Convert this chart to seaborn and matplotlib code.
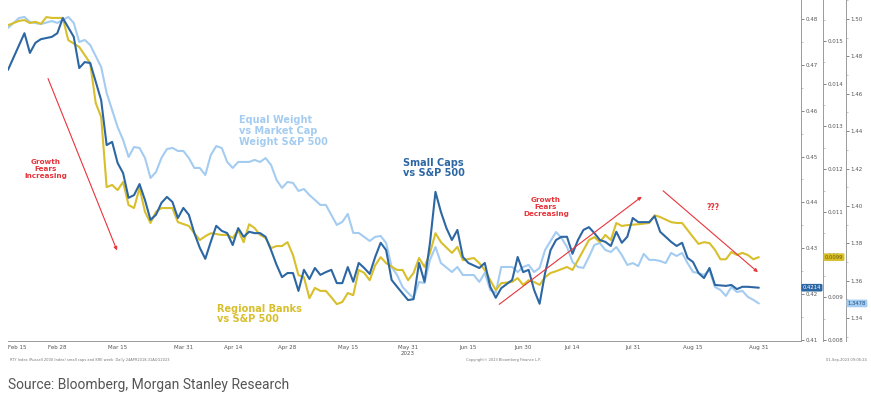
import numpy as np
import matplotlib
matplotlib.use('Agg')
import matplotlib.pyplot as plt
from matplotlib.ticker import AutoMinorLocator, FuncFormatter
import seaborn as sns

sns.set_style('white')
plt.rcParams['font.family'] = ['DejaVu Sans']

# trading-day index (0 = Feb 15, 2023) and ratio values
small_caps_days = [0, 3, 4, 5, 6, 8, 9, 10, 12, 13, 14, 15, 17, 18, 19, 20, 21, 22, 23, 24,
                   25, 26, 27, 28, 29, 30, 31, 32, 33, 34, 35, 36, 37, 38, 39, 40, 41, 42, 43, 44,
                   45, 46, 47, 48, 49, 50, 51, 52, 53, 54, 55, 56, 57, 58, 59, 60, 61, 62, 63, 64,
                   65, 66, 67, 68, 69, 70, 71, 73, 74, 75, 76, 77, 78, 79, 80, 81, 82, 83, 84, 86,
                   87, 88, 89, 90, 92, 93, 94, 95, 96, 97, 98, 99, 100, 101, 102, 103, 104, 105, 106, 107,
                   108, 109, 110, 111, 112, 113, 114, 115, 117, 118, 119, 120, 121, 122, 123, 124, 125, 126, 127, 128,
                   129, 131, 132, 133, 134, 135, 137]
small_caps = [0.4689, 0.4769, 0.4726, 0.4748, 0.4756, 0.4761, 0.4769, 0.4802, 0.4761, 0.4693,
              0.4706, 0.4704, 0.4623, 0.4525, 0.4532, 0.4486, 0.4464, 0.4410, 0.4416, 0.4440,
              0.4405, 0.4362, 0.4373, 0.4399, 0.4412, 0.4401, 0.4366, 0.4388, 0.4373, 0.4333,
              0.4301, 0.4277, 0.4314, 0.4349, 0.4338, 0.4333, 0.4307, 0.4344, 0.4325, 0.4336,
              0.4333, 0.4333, 0.4325, 0.4296, 0.4264, 0.4237, 0.4246, 0.4246, 0.4207, 0.4253,
              0.4233, 0.4257, 0.4242, 0.4248, 0.4253, 0.4224, 0.4224, 0.4259, 0.4227, 0.4268,
              0.4257, 0.4244, 0.4281, 0.4312, 0.4296, 0.4231, 0.4216, 0.4187, 0.4189, 0.4268,
              0.4227, 0.4312, 0.4423, 0.4379, 0.4344, 0.4318, 0.4340, 0.4281, 0.4268, 0.4257,
              0.4268, 0.4216, 0.4192, 0.4213, 0.4231, 0.4281, 0.4248, 0.4253, 0.4209, 0.4179,
              0.4246, 0.4296, 0.4318, 0.4325, 0.4325, 0.4288, 0.4318, 0.4340, 0.4346, 0.4333,
              0.4318, 0.4314, 0.4305, 0.4336, 0.4312, 0.4325, 0.4366, 0.4357, 0.4357, 0.4370,
              0.4336, 0.4325, 0.4314, 0.4305, 0.4312, 0.4279, 0.4270, 0.4246, 0.4235, 0.4257,
              0.4220, 0.4218, 0.4220, 0.4211, 0.4216, 0.4216, 0.4214]

banks_days = [0, 2, 3, 4, 5, 6, 7, 8, 10, 11, 13, 14, 15, 16, 17, 18, 19, 20, 21, 22,
              23, 24, 25, 26, 27, 28, 30, 31, 33, 34, 35, 36, 37, 39, 40, 41, 42, 43, 44, 45,
              46, 47, 48, 49, 50, 51, 52, 53, 54, 55, 56, 57, 58, 59, 60, 61, 62, 63, 64, 65,
              66, 67, 68, 69, 71, 72, 73, 74, 75, 76, 77, 78, 79, 81, 82, 83, 85, 86, 87, 88,
              89, 90, 92, 93, 94, 95, 96, 97, 98, 99, 100, 102, 103, 104, 106, 107, 108, 109, 110, 111,
              112, 113, 115, 117, 118, 119, 121, 122, 123, 125, 126, 127, 128, 129, 130, 131, 132, 133, 134, 135,
              136, 137]
banks = [0.01537, 0.01547, 0.01549, 0.01542, 0.01545, 0.01540, 0.01556, 0.01554, 0.01554, 0.01502,
         0.01486, 0.01467, 0.01448, 0.01355, 0.01322, 0.01158, 0.01163, 0.01151, 0.01170, 0.01116,
         0.01109, 0.01156, 0.01100, 0.01074, 0.01100, 0.01109, 0.01109, 0.01076, 0.01067, 0.01050,
         0.01034, 0.01043, 0.01050, 0.01046, 0.01046, 0.01039, 0.01057, 0.01029, 0.01071, 0.01062,
         0.01046, 0.01039, 0.01015, 0.01020, 0.01020, 0.01029, 0.00999, 0.00952, 0.00947, 0.00898,
         0.00922, 0.00915, 0.00915, 0.00900, 0.00884, 0.00889, 0.00910, 0.00905, 0.00964, 0.00957,
         0.00940, 0.00975, 0.00994, 0.00980, 0.00964, 0.00964, 0.00940, 0.00957, 0.00992, 0.00971,
         0.01004, 0.01050, 0.01029, 0.01004, 0.01018, 0.00987, 0.00992, 0.00980, 0.00964, 0.00940,
         0.00917, 0.00933, 0.00936, 0.00945, 0.00929, 0.00940, 0.00936, 0.00929, 0.00947, 0.00957,
         0.00961, 0.00971, 0.00964, 0.00987, 0.01034, 0.01041, 0.01029, 0.01046, 0.01034, 0.01074,
         0.01067, 0.01069, 0.01071, 0.01074, 0.01092, 0.01088, 0.01076, 0.01074, 0.01074, 0.01041,
         0.01025, 0.01029, 0.01027, 0.01011, 0.00989, 0.00989, 0.01006, 0.00999, 0.01004, 0.00999,
         0.00989, 0.00994]

equal_wt_days = [0, 2, 3, 4, 6, 8, 9, 11, 12, 13, 14, 15, 17, 18, 19, 20, 21, 22, 23, 24,
                 25, 26, 27, 28, 29, 30, 31, 32, 33, 34, 35, 36, 37, 38, 39, 40, 41, 42, 43, 44,
                 45, 46, 47, 48, 49, 50, 51, 52, 53, 54, 55, 56, 57, 58, 59, 60, 61, 62, 63, 64,
                 65, 66, 67, 68, 69, 70, 71, 72, 73, 74, 75, 76, 77, 78, 79, 81, 82, 83, 85, 86,
                 87, 88, 89, 90, 92, 93, 94, 95, 96, 97, 98, 100, 101, 102, 103, 104, 105, 106, 107, 108,
                 109, 110, 111, 112, 113, 114, 115, 116, 117, 118, 119, 120, 121, 122, 123, 124, 125, 126, 127, 128,
                 129, 130, 131, 132, 133, 134, 135, 136, 137]
equal_wt = [1.4952, 1.5005, 1.5011, 1.4984, 1.4973, 1.4989, 1.4979, 1.5011, 1.4979, 1.4877,
            1.4888, 1.4861, 1.4743, 1.4604, 1.4513, 1.4422, 1.4353, 1.4262, 1.4315, 1.4310,
            1.4256, 1.4149, 1.4181, 1.4256, 1.4304, 1.4310, 1.4294, 1.4294, 1.4256, 1.4203,
            1.4203, 1.4165, 1.4272, 1.4320, 1.4310, 1.4235, 1.4203, 1.4235, 1.4235, 1.4235,
            1.4246, 1.4235, 1.4256, 1.4219, 1.4139, 1.4096, 1.4128, 1.4123, 1.4080, 1.4090,
            1.4058, 1.4032, 1.4005, 1.4005, 1.3951, 1.3898, 1.3914, 1.3957, 1.3855, 1.3855,
            1.3834, 1.3812, 1.3834, 1.3839, 1.3801, 1.3673, 1.3630, 1.3566, 1.3534, 1.3507,
            1.3593, 1.3587, 1.3711, 1.3780, 1.3694, 1.3646, 1.3673, 1.3630, 1.3630, 1.3593,
            1.3641, 1.3550, 1.3534, 1.3673, 1.3673, 1.3646, 1.3673, 1.3684, 1.3646, 1.3668,
            1.3764, 1.3860, 1.3828, 1.3780, 1.3700, 1.3673, 1.3668, 1.3727, 1.3791, 1.3801,
            1.3764, 1.3753, 1.3780, 1.3737, 1.3684, 1.3694, 1.3678, 1.3743, 1.3711, 1.3711,
            1.3705, 1.3694, 1.3748, 1.3732, 1.3748, 1.3694, 1.3646, 1.3641, 1.3630, 1.3657,
            1.3566, 1.3550, 1.3518, 1.3566, 1.3539, 1.3545, 1.3513, 1.3497, 1.3478]

tick_days = [0, 9, 20, 32, 41, 51, 62, 73, 84, 94, 103, 114, 125, 137]
tick_labels = ['Feb 15', 'Feb 28', 'Mar 15', 'Mar 31', 'Apr 14', 'Apr 28', 'May 15',
               'May 31\n2023', 'Jun 15', 'Jun 30', 'Jul 14', 'Jul 31', 'Aug 15', 'Aug 31']
small_caps_ticks = [0.41, 0.42, 0.43, 0.44, 0.45, 0.46, 0.47, 0.48]
banks_ticks = [0.008, 0.009, 0.010, 0.011, 0.012, 0.013, 0.014, 0.015]
equal_wt_ticks = [1.34, 1.36, 1.38, 1.40, 1.42, 1.44, 1.46, 1.48, 1.50]

DB = '#2d67a3'
YL = '#d8bf2c'
LB = '#a4ccf1'
RED = '#e6353b'
GREY = '#555555'
W, H = 871, 394


def fx(px):
    return px / W


def fy(py):
    return 1 - py / H


fig = plt.figure(figsize=(W / 100, H / 100), dpi=100)
ax_lb = fig.add_axes([fx(8), fy(341), (801 - 8) / W, 341 / H])
ax_yl = ax_lb.twinx()
ax_db = ax_lb.twinx()

sns.lineplot(x=equal_wt_days, y=equal_wt, ax=ax_lb, color=LB, linewidth=1.5)
sns.lineplot(x=banks_days, y=banks, ax=ax_yl, color=YL, linewidth=1.5)
sns.lineplot(x=small_caps_days, y=small_caps, ax=ax_db, color=DB, linewidth=1.5)

ax_lb.set_xlim(0, 144.7)
ax_db.set_ylim(0.40978, 0.48414)
ax_yl.set_ylim(0.007977, 0.01596)
ax_lb.set_ylim(1.32769, 1.51017)

spine_pos = {ax_db: 1.0, ax_yl: (823 - 8) / 793, ax_lb: (846 - 8) / 793}
for a, pos in spine_pos.items():
    for s in ['top', 'left']:
        a.spines[s].set_visible(False)
    a.spines['right'].set_position(('axes', pos))
    a.spines['right'].set_color('#9a9a9a')
    a.spines['right'].set_linewidth(0.7)
    a.yaxis.tick_right()
    a.yaxis.set_minor_locator(AutoMinorLocator(2))
    a.tick_params(axis='y', which='major', length=2, width=0.5, labelsize=4,
                  pad=1, colors=GREY)
    a.tick_params(axis='y', which='minor', length=1.2, width=0.4, colors='#999999')
    a.set_ylabel('')
    a.set_xlabel('')
for a in (ax_yl, ax_db):
    a.spines['bottom'].set_visible(False)
ax_lb.spines['bottom'].set_color('#9a9a9a')
ax_lb.spines['bottom'].set_linewidth(0.7)

ax_db.set_yticks(small_caps_ticks)
ax_db.yaxis.set_major_formatter(FuncFormatter(lambda v, p: f'{v:.2f}'))
ax_yl.set_yticks(banks_ticks)
ax_yl.yaxis.set_major_formatter(FuncFormatter(lambda v, p: f'{v:g}'))
ax_lb.set_yticks(equal_wt_ticks)
ax_lb.yaxis.set_major_formatter(FuncFormatter(lambda v, p: f'{v:.2f}'))

ax_lb.set_xticks(tick_days)
ax_lb.set_xticklabels(tick_labels)
ax_lb.tick_params(axis='x', length=2, width=0.5, labelsize=4, pad=1, colors=GREY)
ax_lb.get_xticklabels()[0].set_horizontalalignment('left')

# last-value tags on each axis
tags = [(ax_db, small_caps[-1], '.4f', DB, 'white'),
        (ax_yl, banks[-1], '.4f', YL, '#6b5a00'),
        (ax_lb, equal_wt[-1], '.4f', LB, '#1f4f80')]
for a, v, fmt, fc, tc in tags:
    a.annotate(format(v, fmt), xy=(spine_pos[a], v), xycoords=('axes fraction', 'data'),
               xytext=(1.2, 0), textcoords='offset points', ha='left', va='center',
               fontsize=3.8, color=tc, annotation_clip=False,
               bbox=dict(boxstyle='round,pad=0.25', fc=fc, ec='none'))

# series labels
fig.text(fx(239), fy(131), 'Equal Weight\nvs Market Cap\nWeight S&P 500', color=LB,
         fontsize=7, fontweight='bold', ha='left', va='center', linespacing=1.15)
fig.text(fx(403), fy(168), 'Small Caps\nvs S&P 500', color=DB,
         fontsize=7, fontweight='bold', ha='left', va='center', linespacing=1.1)
fig.text(fx(217), fy(314), 'Regional Banks\nvs S&P 500', color=YL,
         fontsize=7, fontweight='bold', ha='left', va='center', linespacing=1.1)

# red commentary
fig.text(fx(46), fy(169), 'Growth\nFears\nIncreasing', color=RED, fontsize=5.2,
         fontweight='bold', ha='center', va='center', linespacing=1.15)
fig.text(fx(546), fy(207), 'Growth\nFears\nDecreasing', color=RED, fontsize=5.2,
         fontweight='bold', ha='center', va='center', linespacing=1.15)
fig.text(fx(713), fy(208), '???', color=RED, fontsize=5.5, fontweight='bold',
         ha='center', va='center')
arrows = [((47, 76), (118, 253)), ((497, 306), (644, 195)), ((661, 189), (760, 274))]
for (x0, y0), (x1, y1) in arrows:
    fig.add_artist(matplotlib.patches.FancyArrowPatch(
        (fx(x0), fy(y0)), (fx(x1), fy(y1)), transform=fig.transFigure,
        arrowstyle='-|>', mutation_scale=5, color=RED, lw=0.8))

# bloomberg footer + source
fig.text(fx(10), fy(360), 'RTY Index (Russell 2000 Index) small caps and KRE week  Daily 24APR2018-31AUG2023',
         fontsize=2.6, color='#777777', va='center')
fig.text(fx(503), fy(360), 'Copyright\u00a9 2023 Bloomberg Finance L.P.', fontsize=2.6,
         color='#777777', ha='center', va='center')
fig.text(fx(867), fy(360), '01-Sep-2023 09:06:24', fontsize=2.6, color='#777777',
         ha='right', va='center')
fig.text(fx(8), fy(385), 'Source: Bloomberg, Morgan Stanley Research', fontsize=10,
         color='#555555', va='center', family=['Roboto', 'DejaVu Sans'])

fig.savefig('out.png', dpi=100)
